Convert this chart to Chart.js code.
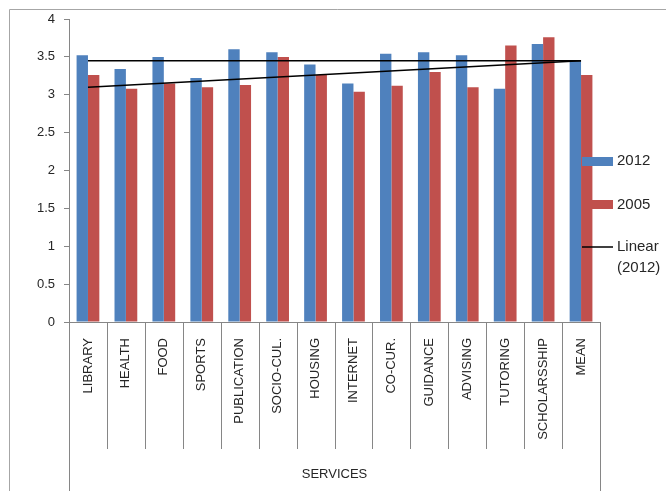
<!DOCTYPE html>
<html>
<head>
<meta charset="utf-8">
<script src="https://cdn.jsdelivr.net/npm/chart.js"></script>
<style>
  html, body { margin: 0; padding: 0; background: #fff; }
  #wrap { width: 666px; height: 491px; position: relative; }
</style>
</head>
<body>
<div id="wrap"><canvas id="chart" width="666" height="491"></canvas></div>
<script>
// categories and values
const services = ['LIBRARY', 'HEALTH', 'FOOD', 'SPORTS', 'PUBLICATION', 'SOCIO-CUL.', 'HOUSING',
  'INTERNET', 'CO-CUR.', 'GUIDANCE', 'ADVISING', 'TUTORING', 'SCHOLARSSHIP', 'MEAN'];
const values2012 = [3.52, 3.34, 3.50, 3.22, 3.60, 3.56, 3.40, 3.15, 3.54, 3.56, 3.52, 3.08, 3.67, 3.45];
const values2005 = [3.26, 3.08, 3.15, 3.10, 3.13, 3.50, 3.26, 3.04, 3.12, 3.30, 3.10, 3.65, 3.76, 3.26];
// straight lines: only end points, gaps are spanned
const meanLine = [3.45, null, null, null, null, null, null, null, null, null, null, null, null, 3.45];
const linear2012 = [3.10, null, null, null, null, null, null, null, null, null, null, null, null, 3.45];
const yTicks = [0, 0.5, 1, 1.5, 2, 2.5, 3, 3.5, 4];
const groupLabel = 'SERVICES';

const BLUE = '#4F81BD';
const RED = '#C0504D';
const AXIS = '#868686';
const TEXT = '#262626';

// frame, two-level category axis and legend (Excel style)
const excelBits = {
  id: 'excelBits',
  afterDraw(chart) {
    const ctx = chart.ctx;
    const xs = chart.scales.x;
    const n = services.length;
    const step = xs.width / n;
    const base = xs.top;
    ctx.save();
    ctx.strokeStyle = '#a6a6a6';
    ctx.lineWidth = 1;
    ctx.beginPath();
    ctx.moveTo(9.5, 491);
    ctx.lineTo(9.5, 9.5);
    ctx.lineTo(666, 9.5);
    ctx.stroke();

    ctx.strokeStyle = AXIS;
    ctx.beginPath();
    for (let k = 0; k <= n; k++) {
      const x = Math.round(xs.left + k * step) + 0.5;
      ctx.moveTo(x, base);
      ctx.lineTo(x, (k === 0 || k === n) ? 491 : 449);
    }
    ctx.stroke();

    ctx.fillStyle = TEXT;
    ctx.font = '13px "Liberation Sans", Arial, sans-serif';
    ctx.textAlign = 'center';
    ctx.textBaseline = 'middle';
    ctx.fillText(groupLabel, (xs.left + xs.right) / 2, 474);

    // legend
    ctx.font = '15px "Liberation Sans", Arial, sans-serif';
    ctx.textAlign = 'left';
    ctx.fillStyle = BLUE;
    ctx.fillRect(582, 157, 31, 9);
    ctx.fillStyle = RED;
    ctx.fillRect(582, 200, 31, 9);
    ctx.strokeStyle = '#000';
    ctx.lineWidth = 1.5;
    ctx.beginPath();
    ctx.moveTo(582, 247);
    ctx.lineTo(613, 247);
    ctx.stroke();
    ctx.fillStyle = TEXT;
    ctx.fillText('2012', 617, 161);
    ctx.fillText('2005', 617, 205);
    ctx.fillText('Linear', 617, 247);
    ctx.fillText('(2012)', 617, 268);
    ctx.restore();
  }
};

new Chart(document.getElementById('chart'), {
  type: 'bar',
  data: {
    labels: services,
    datasets: [
      { label: '2012', data: values2012, backgroundColor: BLUE, order: 2 },
      { label: '2005', data: values2005, backgroundColor: RED, order: 2 },
      { type: 'line', label: 'Mean', data: meanLine, borderColor: '#000', borderWidth: 1.5,
        pointRadius: 0, spanGaps: true, fill: false, order: 1 },
      { type: 'line', label: 'Linear (2012)', data: linear2012, borderColor: '#000', borderWidth: 1.5,
        pointRadius: 0, spanGaps: true, fill: false, order: 1 }
    ]
  },
  options: {
    responsive: false,
    animation: false,
    events: [],
    layout: { padding: { left: 0, right: 66, top: 19, bottom: 0 } },
    datasets: { bar: { barPercentage: 1, categoryPercentage: 0.6 } },
    plugins: { legend: { display: false }, tooltip: { enabled: false } },
    scales: {
      x: {
        grid: { display: false, drawTicks: false },
        border: { display: true, color: AXIS },
        ticks: {
          autoSkip: false, maxRotation: 90, minRotation: 90, padding: 16,
          color: TEXT, font: { family: '"Liberation Sans", Arial, sans-serif', size: 13 }
        },
        afterFit(scale) { scale.height = 169; }
      },
      y: {
        min: 0, max: 4,
        afterBuildTicks(scale) { scale.ticks = yTicks.map(v => ({ value: v })); },
        grid: { drawOnChartArea: false, drawTicks: true, tickLength: 5, color: AXIS },
        border: { display: true, color: AXIS },
        ticks: {
          padding: 9, color: TEXT,
          font: { family: '"Liberation Sans", Arial, sans-serif', size: 13 },
          callback: (v) => String(v)
        },
        afterFit(scale) { scale.width = 69; }
      }
    }
  },
  plugins: [excelBits]
});
</script>
</body>
</html>
